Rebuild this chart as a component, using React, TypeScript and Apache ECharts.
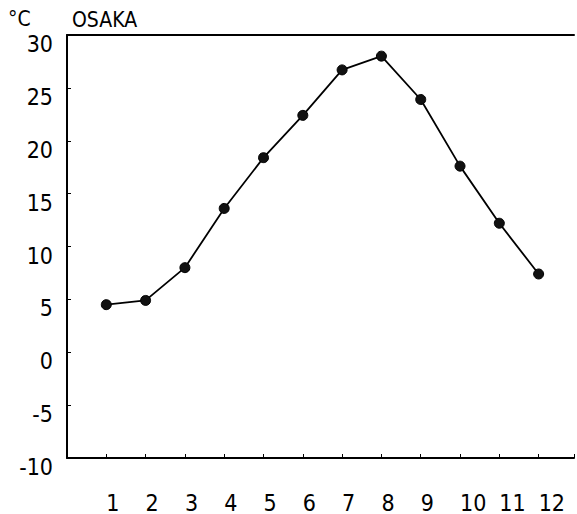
import React, { useEffect, useRef } from "react";
import * as echarts from "echarts";

// Monthly mean temperature, Osaka (°C)
const months = [1, 2, 3, 4, 5, 6, 7, 8, 9, 10, 11, 12];
const temps = [4.5, 4.9, 8.0, 13.6, 18.4, 22.4, 26.7, 28.0, 23.9, 17.6, 12.2, 7.4];
const yTicks = [-10, -5, 0, 5, 10, 15, 20, 25, 30];

const FONT = "'DejaVu Sans Condensed', 'Liberation Sans Narrow', 'DejaVu Sans', sans-serif";

export default function App() {
  const ref = useRef<HTMLDivElement>(null);

  useEffect(() => {
    if (!ref.current) return;
    const chart = echarts.init(ref.current, null, { renderer: "svg" });
    const points = months.map((m, i) => [m, temps[i]]);

    chart.setOption({
      animation: false,
      backgroundColor: "#ffffff",
      grid: { left: 67, right: 0, top: 35, bottom: 55, containLabel: false },
      xAxis: [
        {
          type: "value",
          min: 0,
          max: 12.9,
          interval: 1,
          axisLine: { show: true, onZero: false, lineStyle: { color: "#000", width: 2 } },
          axisTick: { show: true, inside: true, length: 4, lineStyle: { color: "#000", width: 1 } },
          axisLabel: {
            show: true,
            margin: 33,
            align: "left",
            color: "#000",
            fontFamily: FONT,
            fontSize: 23,
            formatter: (v: number) => (months.includes(v) ? String(v) : ""),
          },
          splitLine: { show: false },
        },
        {
          type: "value",
          position: "top",
          min: 0,
          max: 12.9,
          axisLine: { show: true, onZero: false, lineStyle: { color: "#000", width: 2 } },
          axisTick: { show: false },
          axisLabel: { show: false },
          splitLine: { show: false },
        },
      ],
      yAxis: {
        type: "value",
        min: yTicks[0],
        max: yTicks[yTicks.length - 1],
        interval: 5,
        axisLine: { show: true, onZero: false, lineStyle: { color: "#000", width: 2 } },
        axisTick: { show: true, inside: true, length: 4, lineStyle: { color: "#000", width: 1 } },
        axisLabel: {
          margin: 14,
          color: "#000",
          fontFamily: FONT,
          fontSize: 23,
          verticalAlign: "top",
          lineHeight: 18,
          formatter: (v: number) => String(v),
        },
        splitLine: { show: false },
      },
      graphic: [
        {
          type: "text",
          left: 8,
          top: 8,
          style: { text: "°C", fill: "#000", font: `21px ${FONT}` },
        },
        {
          type: "text",
          left: 72,
          top: 9,
          style: { text: "OSAKA", fill: "#000", font: `21px ${FONT}` },
        },
      ],
      series: [
        {
          type: "line",
          data: points,
          symbol: "circle",
          symbolSize: 10,
          itemStyle: { color: "#111", borderColor: "#000", borderWidth: 1 },
          lineStyle: { color: "#000", width: 1.8 },
        },
      ],
    });

    return () => chart.dispose();
  }, []);

  return (
    <div
      ref={ref}
      style={{ position: "absolute", left: 0, top: 0, width: 577, height: 514 }}
    />
  );
}
